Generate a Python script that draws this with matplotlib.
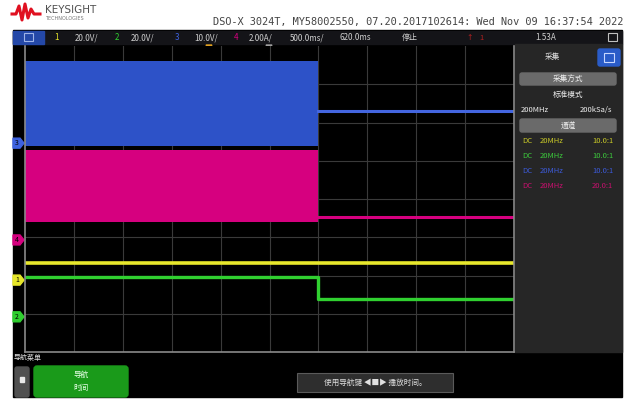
#!/usr/bin/env python3
"""
Oscilloscope screen capture (Keysight DSO-X 3024T) redrawn with matplotlib
"""

import matplotlib.pyplot as plt
from matplotlib.patches import Rectangle, FancyBboxPatch, Polygon

plt.rcParams['font.family'] = ['Noto Sans CJK SC', 'DejaVu Sans']

# time axis in divisions (500 ms/div), switching event at 6 div
t_start, t_switch, t_end = 0.0, 6.0, 10.0

# trace levels in screen divisions (0 = bottom, 8 = top)
ch3_band = (5.39, 7.61)
ch3_after = 6.30
ch4_band = (3.40, 5.28)
ch4_after = 3.53
ch1_level = 2.33
ch2_before, ch2_after = 1.96, 1.39

# channel ground markers: label, level (div), colour
gnd_markers = [('3', 5.46, '#3d62e0'), ('4', 2.93, '#d6007f'),
               ('1', 1.88, '#e6e62a'), ('2', 0.92, '#2fcf2f')]
trig_pos = 3.77     # trigger point (div)
ref_pos = 5.0       # time reference (div)

header = 'DSO-X 3024T, MY58002550, 07.20.2017102614: Wed Nov 09 16:37:54 2022'
bar_items = [('1', '#e6e62a'), ('20.0V/', '#d0d0d0'), ('2', '#2fcf2f'), ('20.0V/', '#d0d0d0'),
             ('3', '#3d62e0'), ('10.0V/', '#d0d0d0'), ('4', '#d6007f'), ('2.00A/', '#d0d0d0'),
             ('500.0ms/', '#d0d0d0'), ('620.0ms', '#d0d0d0'), ('停止', '#d0d0d0'),
             ('1.53A', '#d0d0d0')]
bar_x = [57, 86, 117, 142, 177, 206, 236, 261, 307, 355, 410, 546]

probe_rows = [('DC', '20MHz', '10.0:1', '#c8c828'),
              ('DC', '20MHz', '10.0:1', '#3cc83c'),
              ('DC', '20MHz', '10.0:1', '#3c5ad8'),
              ('DC', '20MHz', '20.0:1', '#c8106e')]

C_BLUE, C_BLUE_LINE = '#2d52c8', '#4466e0'
C_PINK = '#d6007f'
C_YEL = '#e8e82c'
C_GRN = '#30d030'

fig = plt.figure(figsize=(6.32, 4.03), dpi=100, facecolor='white')

# ---- full-figure decoration layer in pixel coordinates
deco = fig.add_axes([0, 0, 1, 1])
deco.set_xlim(0, 632)
deco.set_ylim(403, 0)
deco.axis('off')

deco.add_patch(Rectangle((13, 30), 609, 367, color='black'))
# header logo
logo = [(12, 14), (16, 14), (19, 6), (22, 20), (25, 4), (28, 18), (31, 9), (34, 14), (40, 14)]
deco.plot([p[0] for p in logo], [p[1] for p in logo], color='#e01020', lw=2.2)
deco.text(45, 10, 'KEYSIGHT', fontsize=7.5, color='#505050', va='center', family='DejaVu Sans')
deco.text(45, 19, 'TECHNOLOGIES', fontsize=3.5, color='#777777', va='center', family='DejaVu Sans')
deco.text(213, 22, header, fontsize=7.35, color='#444444', va='center', family='DejaVu Sans Mono')

# channel bar
deco.add_patch(Rectangle((13, 31), 609, 13, color='#141418'))
deco.add_patch(Rectangle((13, 31), 31, 13, color='#2448a8'))
deco.add_patch(Rectangle((24, 33), 9, 8, fill=False, ec='#9fb4e8', lw=0.8))
for (txt, col), x in zip(bar_items, bar_x):
    deco.text(x, 37.5, txt, fontsize=5.8, color=col, va='center', ha='center')
deco.text(470, 37.5, '↑', fontsize=5.5, color='#b02020', va='center', ha='center', family='DejaVu Sans')
deco.text(482, 37.5, '1', fontsize=5.5, color='#b02020', va='center', ha='center')
deco.add_patch(Rectangle((608, 33), 9, 8, fill=False, ec='#c0c0c0', lw=0.8))

# trigger / reference markers above grid
for pos, col in [(trig_pos, '#e0a020'), (ref_pos, '#a0a0a0')]:
    x = 25 + pos * 48.8
    deco.add_patch(Polygon([(x - 3, 45), (x + 3, 45), (x, 49)], color=col))

# ground markers on the left edge
for lab, lvl, col in gnd_markers:
    y = 352 - lvl * 38.25
    deco.add_patch(Polygon([(13, y - 5), (20, y - 5), (24, y), (20, y + 5), (13, y + 5)], color=col))
    deco.text(17, y, lab, fontsize=5, color='black', ha='center', va='center')

# right side panel
deco.add_patch(Rectangle((515, 44), 107, 308, color='#262626'))
deco.text(552, 57, '采集', fontsize=5.5, color='#e0e0e0', ha='center', va='center')
deco.add_patch(FancyBboxPatch((598, 49), 22, 17, boxstyle='round,pad=0,rounding_size=2', color='#2a5cc8'))
deco.add_patch(Rectangle((604, 53), 10, 9, fill=False, ec='#c8d8ff', lw=0.8))
deco.add_patch(FancyBboxPatch((520, 73), 96, 12, boxstyle='round,pad=0,rounding_size=2', color='#6a6a6a'))
deco.text(568, 79, '采集方式', fontsize=5.5, color='#f0f0f0', ha='center', va='center')
deco.text(568, 95, '标准模式', fontsize=5.5, color='#f0f0f0', ha='center', va='center')
deco.text(535, 110, '200MHz', fontsize=5.5, color='#f0f0f0', ha='center', va='center')
deco.text(596, 110, '200kSa/s', fontsize=5.5, color='#f0f0f0', ha='center', va='center')
deco.add_patch(FancyBboxPatch((520, 119), 96, 13, boxstyle='round,pad=0,rounding_size=2', color='#6a6a6a'))
deco.text(568, 125.5, '通道', fontsize=5.5, color='#f0f0f0', ha='center', va='center')
for i, (cpl, bw, ratio, col) in enumerate(probe_rows):
    y = 141 + i * 15
    deco.text(522, y, cpl, fontsize=5.5, color=col, va='center')
    deco.text(540, y, bw, fontsize=5.5, color=col, va='center')
    deco.text(592, y, ratio, fontsize=5.5, color=col, va='center')

# bottom menu
deco.text(14, 358, '导航菜单', fontsize=5, color='#e0e0e0', va='center')
deco.add_patch(FancyBboxPatch((15, 367), 14, 30, boxstyle='round,pad=0,rounding_size=2', color='#505050'))
deco.add_patch(Rectangle((20, 377), 4, 5, color='#e8e8e8'))
deco.add_patch(FancyBboxPatch((34, 366), 94, 31, boxstyle='round,pad=0,rounding_size=3', color='#1a9a1a'))
deco.text(81, 375, '导航', fontsize=5.5, color='#e8ffe8', ha='center', va='center')
deco.text(81, 388, '时间', fontsize=5.5, color='#e8ffe8', ha='center', va='center')
deco.add_patch(Rectangle((297, 373), 156, 19, fc='#2e2e2e', ec='#5a5a5a', lw=0.8))
deco.text(375, 382.5, '使用导航键 ◀■▶ 播放时间。', fontsize=5.5, color='#e0e0e0',
          ha='center', va='center')

# ---- waveform graticule
ax = fig.add_axes([25 / 632, (403 - 352) / 403, 489 / 632, 306 / 403])
ax.set_facecolor('black')
ax.set_axisbelow(True)
ax.set_xlim(0, 10)
ax.set_ylim(0, 8)
ax.set_xticks(range(1, 10))
ax.set_yticks(range(1, 8))
ax.grid(True, color='#3a3a3a', lw=0.8)
ax.tick_params(length=0, labelbottom=False, labelleft=False)
ax.spines['top'].set_visible(False)
for side in ['left', 'bottom', 'right']:
    ax.spines[side].set_color('#8a8a8a')
    ax.spines[side].set_linewidth(1.2)

# channel 3 (blue): dense switching band, then DC level
ax.fill_between([t_start, t_switch], ch3_band[0], ch3_band[1], color=C_BLUE, lw=0)
ax.plot([t_switch, t_end], [ch3_after, ch3_after], color=C_BLUE_LINE, lw=2.2)
# channel 4 (pink)
ax.fill_between([t_start, t_switch], ch4_band[0], ch4_band[1], color=C_PINK, lw=0)
ax.plot([t_switch, t_end], [ch4_after, ch4_after], color=C_PINK, lw=2.2)
# channel 1 (yellow)
ax.plot([t_start, t_end], [ch1_level, ch1_level], color=C_YEL, lw=2.6)
# channel 2 (green) steps down at the switch
ax.plot([t_start, t_switch, t_switch, t_end], [ch2_before, ch2_before, ch2_after, ch2_after],
        color=C_GRN, lw=2.4)

plt.savefig('out.png', dpi=100, facecolor='white')
print("Chart saved to out.png")
